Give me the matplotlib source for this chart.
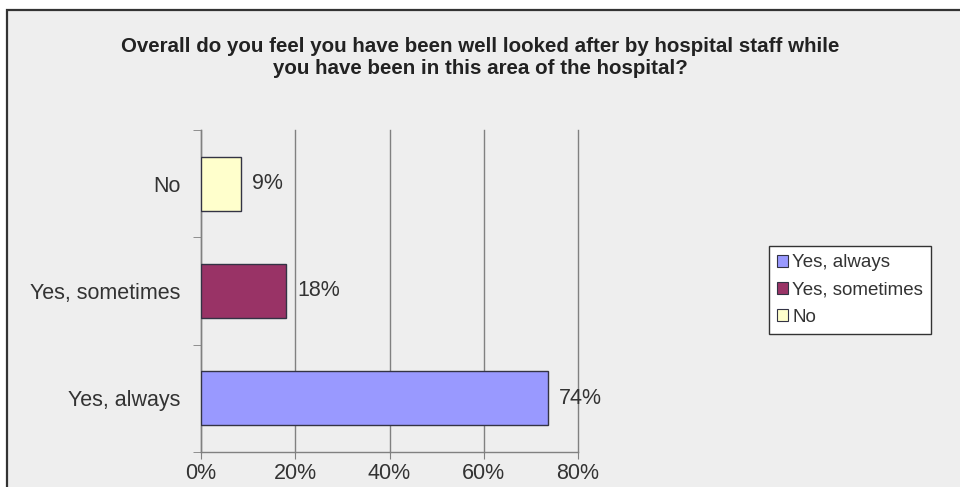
import matplotlib
matplotlib.use("Agg")
import matplotlib.pyplot as plt
from matplotlib.patches import Rectangle, Patch

categories = ["Yes, always", "Yes, sometimes", "No"]
values = [73.6, 18.0, 8.5]
labels = ["74%", "18%", "9%"]
colors = ["#9999FF", "#993366", "#FFFFCC"]
xticks = [0, 20, 40, 60, 80]
xticklabels = ["0%", "20%", "40%", "60%", "80%"]
title = ("Overall do you feel you have been well looked after by hospital staff while\n"
         "you have been in this area of the hospital?")

plt.rcParams['font.family'] = ['Liberation Sans', 'DejaVu Sans']
bg = "#EEEEEE"
fig = plt.figure(figsize=(9.6, 4.87), dpi=100)
fig.patch.set_facecolor("white")
W, H = 960, 487
fig.patches.append(Rectangle((7 / W, -0.05), 1 - 7 / W + 0.01, 1.05 - 10 / H, transform=fig.transFigure,
                             facecolor=bg, edgecolor="#333333", linewidth=1.6, zorder=-5))

ax = fig.add_axes([201 / W, 1 - 452 / H, 377 / W, 322 / H])
ax.set_zorder(2)
ax.patch.set_alpha(0)
ypos = list(range(len(categories)))
ax.barh(ypos, values, height=0.5, color=colors, edgecolor="#333344", linewidth=1.0, zorder=3)
for y, v, t in zip(ypos, values, labels):
    ax.text(v + 2.4, y, t, va="center", ha="left", fontsize=15.5, color="#333333")
ax.set_xlim(0, 80)
ax.set_ylim(-0.5, len(categories) - 0.5)
ax.set_xticks(xticks)
ax.set_xticklabels(xticklabels, fontsize=15.5, color="#333333")
ax.set_yticks(ypos)
ax.set_yticklabels(categories, fontsize=15.5, color="#333333")
ax.tick_params(axis="y", length=0, pad=15)
ax.tick_params(axis="x", length=5, color="#808080", pad=3)
ax.set_yticks([-0.5, 0.5, 1.5, 2.5], minor=True)
ax.tick_params(axis="y", which="minor", length=6, color="#808080")
ax.grid(axis="x", color="#808080", linewidth=1.0, zorder=1)
for gl in ax.get_xgridlines():
    gl.set_clip_on(False)
for s in ["top", "right"]:
    ax.spines[s].set_visible(False)
for s in ["left", "bottom"]:
    ax.spines[s].set_color("#808080")
    ax.spines[s].set_linewidth(1.0)

fig.text(480 / W, 1 - 57 / H, title, ha="center", va="center", fontsize=14.8,
         fontweight="bold", color="#222222", linespacing=1.2)

handles = [Patch(facecolor=c, edgecolor="#333344", linewidth=0.8) for c in colors]
leg = fig.legend(handles, categories, loc="center", bbox_to_anchor=(850 / W, 1 - 290 / H),
                 fontsize=13.5, frameon=True, fancybox=False, edgecolor="#333333",
                 handlelength=0.6, handleheight=0.6, handletextpad=0.2, labelspacing=0.55,
                 borderpad=0.45, framealpha=1)
leg.get_frame().set_facecolor("white")
leg.get_frame().set_linewidth(1.0)
for t in leg.get_texts():
    t.set_color("#333333")

fig.savefig("out.png", dpi=100, facecolor=fig.get_facecolor())
